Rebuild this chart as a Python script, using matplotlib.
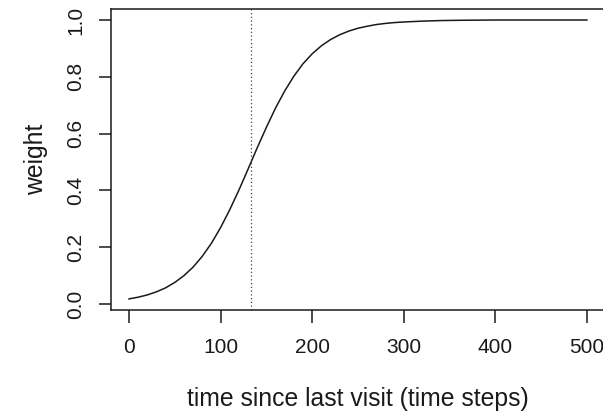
import matplotlib
matplotlib.use("Agg")
import matplotlib.pyplot as plt

# values
time_steps = [0, 10, 20, 30, 40, 50, 60, 70, 80, 90, 100, 110, 120, 130, 140,
              150, 160, 170, 180, 190, 200, 210, 220, 230, 240, 250, 260, 270,
              280, 290, 300, 320, 340, 360, 400, 450, 500]
weight = [0.018, 0.024, 0.032, 0.043, 0.057, 0.076, 0.100, 0.130, 0.168, 0.214,
          0.269, 0.332, 0.401, 0.475, 0.550, 0.622, 0.690, 0.750, 0.802, 0.846,
          0.881, 0.909, 0.931, 0.948, 0.961, 0.971, 0.978, 0.984, 0.988, 0.991,
          0.993, 0.996, 0.998, 0.999, 1.000, 1.000, 1.000]
midpoint = 133
xticks = [0, 100, 200, 300, 400, 500]
yticks = [0.0, 0.2, 0.4, 0.6, 0.8, 1.0]

plt.rcParams['font.family'] = ['Liberation Sans', 'DejaVu Sans']
ink = '#1a1a1a'

fig = plt.figure(figsize=(6.03, 4.17), dpi=100)
ax = fig.add_axes([0.1836, 0.2566, 0.82, 0.7211])

ax.plot(time_steps, weight, color=ink, lw=1.1)
ax.axvline(midpoint, color='#444444', lw=0.9, ls=(0, (1, 2)))

ax.set_xlim(-20, 520)
ax.set_ylim(-0.0211, 1.0377)
ax.set_xticks(xticks)
ax.set_xticklabels([str(t) for t in xticks])
ax.set_yticks(yticks)
ax.set_yticklabels([f'{t:.1f}' for t in yticks], rotation=90, va='center')

for s in ax.spines.values():
    s.set_color(ink)
    s.set_linewidth(1.1)
ax.tick_params(axis='both', direction='out', length=9, width=1.1, color=ink,
               labelsize=15, labelcolor=ink)
ax.tick_params(axis='x', pad=11)
ax.tick_params(axis='y', pad=9.5)

ax.set_xlabel('time since last visit (time steps)', fontsize=17.8, color=ink, labelpad=22)
ax.set_ylabel('weight', fontsize=17.8, color=ink, labelpad=13)

fig.savefig('out.png', dpi=100)
